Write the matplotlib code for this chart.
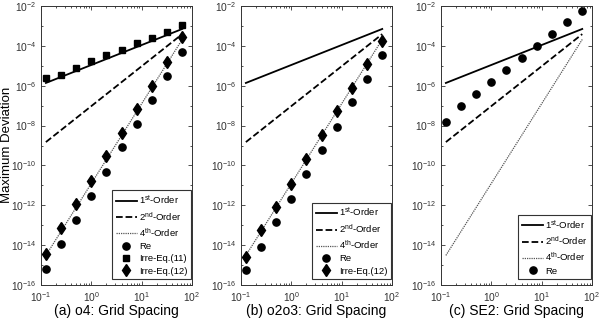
import numpy as np
import matplotlib
matplotlib.use("Agg")
import matplotlib.pyplot as plt
from matplotlib.ticker import LogLocator, NullFormatter

plt.rcParams['font.family'] = ['Liberation Sans', 'DejaVu Sans']
plt.rcParams['mathtext.fontset'] = 'custom'
plt.rcParams['mathtext.rm'] = 'Liberation Sans'
plt.rcParams['mathtext.it'] = 'Liberation Sans'

# grid spacing h
h = 0.125 * 2.0 ** np.arange(10)

# reference order lines: C * h^p
c1, c2, c4 = 1.1e-5, 9.5e-8, 1.25e-11

# panel (a) o4
a_re = 10 ** np.array([-15.18, -13.93, -12.74, -11.52, -10.31, -9.09, -7.92, -6.72, -5.51, -4.33])
a_eq11 = 10 ** np.array([-5.63, -5.46, -5.10, -4.76, -4.47, -4.19, -3.87, -3.59, -3.30, -2.97])
a_eq12 = 10 ** np.array([-14.44, -13.16, -11.95, -10.78, -9.53, -8.39, -7.15, -6.00, -4.79, -3.57])

# panel (b) o2o3
b_re = 10 ** np.array([-15.26, -14.08, -12.85, -11.67, -10.45, -9.24, -8.05, -6.83, -5.65, -4.47])
b_eq12 = 10 ** np.array([-14.58, -13.26, -12.10, -10.92, -9.70, -8.49, -7.27, -6.11, -4.89, -3.77])

# panel (c) SE2
c_re = 10 ** np.array([-7.84, -7.02, -6.43, -5.81, -5.21, -4.62, -4.01, -3.40, -2.82, -2.27])

titles = ['(a) o4: Grid Spacing', '(b) o2o3: Grid Spacing', '(c) SE2: Grid Spacing']
lefts = [41, 241, 441]

fig = plt.figure(figsize=(6.0, 3.19), dpi=100)
W, H = 600, 319
axes = []
for i, left in enumerate(lefts):
    ax = fig.add_axes([left / W, 34 / H, 151 / W, 279 / H])
    axes.append(ax)
    ax.set_xscale('log')
    ax.set_yscale('log')
    ax.set_xlim(0.1, 100)
    ax.set_ylim(1e-16, 1e-2)
    ax.set_yticks([10.0 ** -k for k in range(2, 17, 2)])
    ax.yaxis.set_minor_locator(LogLocator(base=10, subs=(1.0,), numticks=20))
    ax.yaxis.set_minor_formatter(NullFormatter())
    ax.xaxis.set_minor_locator(LogLocator(base=10, subs=np.arange(2, 10), numticks=20))
    ax.xaxis.set_minor_formatter(NullFormatter())
    ax.tick_params(which='both', direction='in', top=True, right=True,
                   labelsize=7.4, labelcolor='#333333', color='#333333', width=0.6)
    ax.tick_params(which='major', length=3)
    ax.tick_params(which='minor', length=1.5)
    for s in ax.spines.values():
        s.set_color('#333333')
        s.set_linewidth(0.7)
    ax.set_xlabel(titles[i], fontsize=10, labelpad=0.5)

    ax.plot(h, c1 * h, '-', color='black', lw=1.3, label='1$^{st}$-Order')
    ax.plot(h, c2 * h ** 2, '--', color='black', lw=1.3, label='2$^{nd}$-Order')
    ax.plot(h, c4 * h ** 4, linestyle=(0, (1, 0.8)), color='#555555', lw=0.9, label='4$^{th}$-Order')

fig.text(0.5 / W, 1 - 145 / H, 'Maximum Deviation', rotation=90,
         ha='left', va='center', fontsize=9.5)

mk = dict(linestyle='none', color='black', markeredgecolor='black')
axes[0].plot(h, a_re, 'o', markersize=5.2, label='Re', **mk)
axes[0].plot(h, a_eq11, 's', markersize=4.6, label='Irre-Eq.(11)', **mk)
axes[0].plot(h, a_eq12, 'd', markersize=6, label='Irre-Eq.(12)', **mk)

axes[1].plot(h, b_re, 'o', markersize=5.2, label='Re', **mk)
axes[1].plot(h, b_eq12, 'd', markersize=6, label='Irre-Eq.(12)', **mk)

axes[2].plot(h, c_re, 'o', markersize=5.2, label='Re', **mk)

for ax in axes:
    leg = ax.legend(loc='lower right', bbox_to_anchor=(1 - 1 / 151, 6 / 279),
                    borderaxespad=0, fontsize=6.8, handlelength=2.3,
                    handletextpad=0.2, labelspacing=0.35, borderpad=0.35,
                    fancybox=False, framealpha=1, edgecolor='#333333')
    leg.get_frame().set_linewidth(0.8)

fig.savefig('out.png', dpi=100)
